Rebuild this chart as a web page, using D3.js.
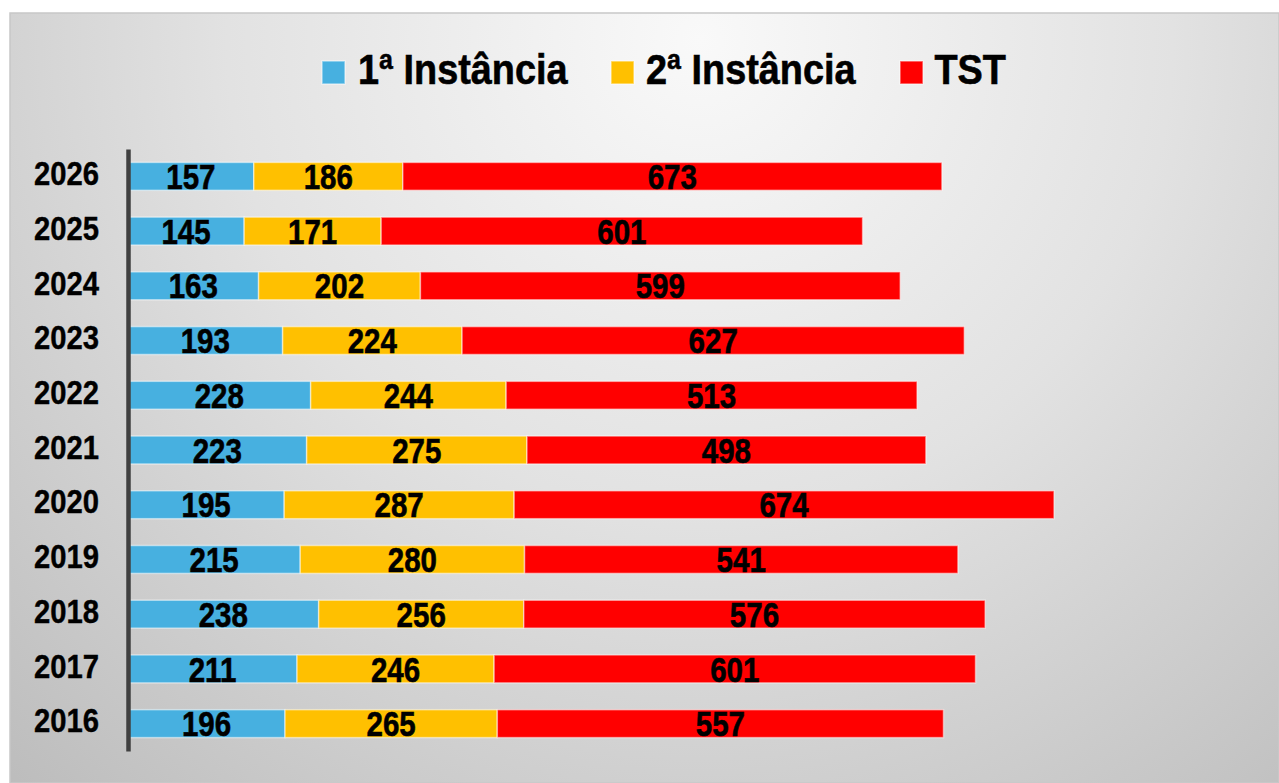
<!DOCTYPE html>
<html><head><meta charset="utf-8">
<script src="https://cdn.jsdelivr.net/npm/d3@7"></script>
<style>html,body{margin:0;padding:0;background:#fff;}svg{display:block;}</style>
</head><body>
<svg id="c" width="1279" height="783"></svg>
<script>
const years = ["2026","2025","2024","2023","2022","2021","2020","2019","2018","2017","2016"];
const seriesNames = ["1ª Instância","2ª Instância","TST"];
const first = [157,145,163,193,228,223,195,215,238,211,196];
const second = [186,171,202,224,244,275,287,280,256,246,265];
const tst = [673,601,599,627,513,498,674,541,576,601,557];
const colors = ["#47b0e0","#ffc000","#ff0000"];
const FONT = "Liberation Sans, Arial, sans-serif";

const svg = d3.select("#c");
const defs = svg.append("defs");
const g = defs.append("radialGradient").attr("id","bg")
  .attr("gradientUnits","userSpaceOnUse").attr("cx",700).attr("cy",40).attr("r",1050);
g.append("stop").attr("offset","0").attr("stop-color","#f9f9f9");
g.append("stop").attr("offset","0.45").attr("stop-color","#e2e2e2");
g.append("stop").attr("offset","1").attr("stop-color","#bababa");

svg.append("rect").attr("x",10).attr("y",13).attr("width",1269).attr("height",770)
  .attr("fill","url(#bg)").attr("stroke","#c8c8c8").attr("stroke-width",1.5);

const table = years.map((y,i)=>({year:y, "1ª Instância":first[i], "2ª Instância":second[i], "TST":tst[i]}));
const stack = d3.stack().keys(seriesNames)(table);

const x = d3.scaleLinear().domain([0,1400]).range([128,1249.5]);
const y = d3.scaleBand().domain(years).range([149,751]).paddingInner(0.49).paddingOuter(0.245);

stack.forEach((s,si)=>{
  const grp = svg.append("g");
  grp.selectAll("rect").data(s).enter().append("rect")
    .attr("x",d=>x(d[0])).attr("width",d=>x(d[1])-x(d[0]))
    .attr("y",d=>y(d.data.year)).attr("height",y.bandwidth())
    .attr("fill",colors[si]).attr("stroke","rgba(255,255,255,0.5)").attr("stroke-width",1.5);
});
stack.forEach((s,si)=>{
  const grp = svg.append("g");
  grp.selectAll("text").data(s).enter().append("text")
    .attr("transform",d=>`translate(${(x(d[0])+x(d[1]))/2},${y(d.data.year)+y.bandwidth()/2+12.6}) scale(0.82,1)`)
    .attr("text-anchor","middle")
    .attr("font-family",FONT).attr("font-weight","bold")
    .attr("font-size",36).attr("fill","#000").attr("stroke","#000").attr("stroke-width",0.6)
    .text(d=>d[1]-d[0]);
});

// axis
const yAxis = d3.axisLeft(y).tickSize(0).tickPadding(0);
const ax = svg.append("g").attr("transform","translate(128,0)").call(yAxis);
ax.select(".domain").attr("stroke","#404040").attr("stroke-width",4.5);
ax.selectAll(".tick text").attr("x",null).attr("y",null).attr("dy",null)
  .attr("transform","translate(-29,8.7) scale(0.9,1)")
  .attr("text-anchor","end")
  .attr("font-family",FONT).attr("font-weight","bold")
  .attr("font-size",32.5).attr("fill","#000").attr("stroke","#000").attr("stroke-width",0.4);

// legend
const legX = [322,611,900];
const legTX = [358,646,934.5];
const leg = svg.append("g");
seriesNames.forEach((n,i)=>{
  leg.append("rect").attr("x",legX[i]).attr("y",61).attr("width",23).attr("height",23)
    .attr("fill",colors[i]).attr("stroke","rgba(255,255,255,0.5)").attr("stroke-width",1.5);
  leg.append("text").attr("transform",`translate(${legTX[i]},84.3) scale(0.88,1)`)
    .attr("font-family",FONT).attr("font-weight","bold")
    .attr("font-size",43).attr("fill","#000").attr("stroke","#000").attr("stroke-width",0.6).text(n);
});
</script>
</body></html>
